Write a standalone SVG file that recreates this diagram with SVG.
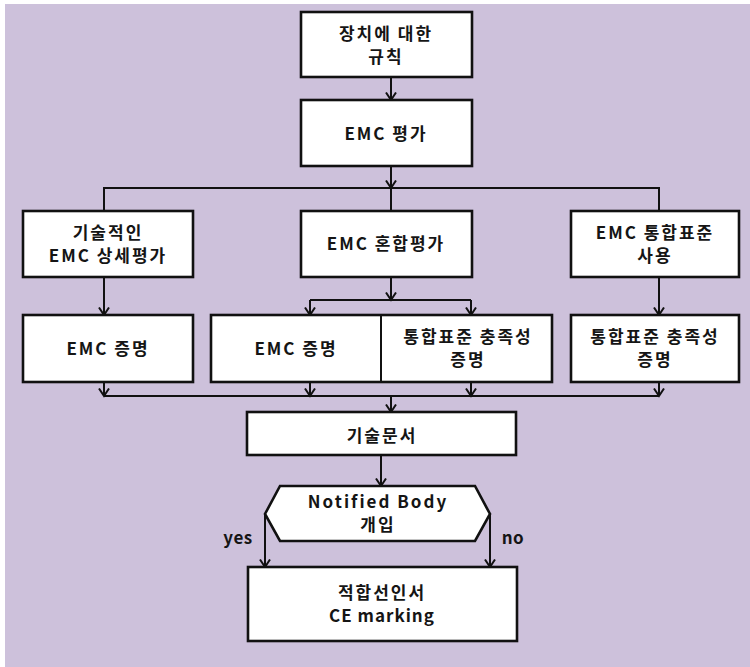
<svg xmlns="http://www.w3.org/2000/svg" width="750" height="667" viewBox="0 0 750 667">
<defs>
<marker id="arr" viewBox="-1 -6 10 12" refX="7.5" refY="0" markerWidth="10" markerHeight="12" markerUnits="userSpaceOnUse" orient="auto">
<path d="M0,-5 L7.5,0 L0,5" fill="none" stroke="#111" stroke-width="2"/>
</marker>
<style>
.box{fill:#fff;stroke:#111;stroke-width:2.6}
.ln{fill:none;stroke:#111;stroke-width:2}
.ar{fill:none;stroke:#111;stroke-width:2;marker-end:url(#arr)}
text{font-family:"Noto Sans CJK KR","Noto Sans",sans-serif;font-weight:bold;font-size:17px;fill:#151515;text-anchor:middle;letter-spacing:2px}
.lbl{letter-spacing:0.5px}
</style>
</defs>
<rect x="0" y="0" width="750" height="667" fill="#fff"/>
<rect x="5" y="4" width="745" height="663" fill="#CDC1DB"/>

<g id="connectors">
<path class="ar" d="M391,77 V100"/>
<path class="ar" d="M391,166 V188"/>
<path class="ln" d="M104,211 V188 H659 V211"/>
<path class="ln" d="M391,188 V211"/>
<path class="ar" d="M104,277 V315"/>
<path class="ar" d="M659,277 V315"/>
<path class="ar" d="M391,277 V300"/>
<path class="ln" d="M310,300 H471"/>
<path class="ar" d="M310,300 V315"/>
<path class="ar" d="M471,300 V315"/>
<path class="ar" d="M104,382 V396"/>
<path class="ar" d="M310,382 V396"/>
<path class="ar" d="M471,382 V396"/>
<path class="ar" d="M659,382 V396"/>
<path class="ln" d="M104,396 H659"/>
<path class="ar" d="M391,396 V412"/>
<path class="ar" d="M381,455 V486"/>
<path class="ar" d="M265,514 V567"/>
<path class="ar" d="M490,514 V567"/>
<text class="lbl" x="238" y="544">yes</text>
<text class="lbl" x="513" y="544">no</text>
</g>

<g id="n1">
<rect class="box" x="301" y="12" width="171" height="65"/>
<text x="386" y="40">장치에 대한</text>
<text x="386" y="63">규칙</text>
</g>
<g id="n2">
<rect class="box" x="301" y="100" width="171" height="66"/>
<text x="386" y="140">EMC 평가</text>
</g>
<g id="n3">
<rect class="box" x="23" y="211" width="170" height="66"/>
<text x="108" y="238.5">기술적인</text>
<text x="108" y="261.5">EMC 상세평가</text>
</g>
<g id="n4">
<rect class="box" x="301" y="211" width="171" height="66"/>
<text x="386" y="250">EMC 혼합평가</text>
</g>
<g id="n5">
<rect class="box" x="571" y="211" width="168" height="66"/>
<text x="655" y="238.5">EMC 통합표준</text>
<text x="655" y="261.5">사용</text>
</g>
<g id="n6">
<rect class="box" x="23" y="315" width="170" height="67"/>
<text x="108" y="355">EMC 증명</text>
</g>
<g id="n7">
<rect class="box" x="211" y="315" width="341" height="67"/>
<line class="ln" x1="381" y1="315" x2="381" y2="382"/>
<text x="296" y="355">EMC 증명</text>
<text x="468" y="343">통합표준 충족성</text>
<text x="468" y="366">증명</text>
</g>
<g id="n8">
<rect class="box" x="571" y="315" width="168" height="67"/>
<text x="655" y="343">통합표준 충족성</text>
<text x="655" y="366">증명</text>
</g>
<g id="n9">
<rect class="box" x="247" y="412" width="269" height="43"/>
<text x="382" y="442">기술문서</text>
</g>
<g id="n10">
<polygon class="box" points="280,486 475,486 490,514 475,541 280,541 265,514"/>
<text x="378" y="508">Notified Body</text>
<text x="378" y="531">개입</text>
</g>
<g id="n11">
<rect class="box" x="248" y="567" width="269" height="74"/>
<text x="382" y="598.5">적합선인서</text>
<text x="382" y="621.5" style="letter-spacing:1px">CE marking</text>
</g>
</svg>
